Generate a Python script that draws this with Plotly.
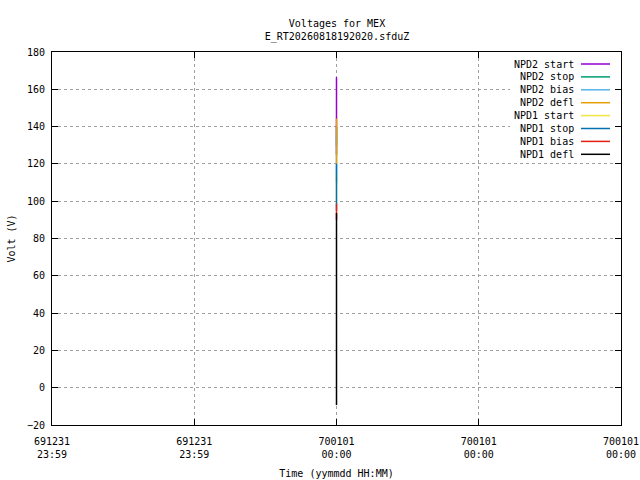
import plotly.graph_objects as go

# seconds since epoch (all samples sit at the same instant)
time_s = [0, 0]

series_names = ["NPD2 start", "NPD2 stop", "NPD2 bias", "NPD2 defl",
                "NPD1 start", "NPD1 stop", "NPD1 bias", "NPD1 defl"]
series_colors = ["#9400d3", "#009e73", "#56b4e9", "#e69f00",
                 "#f0e442", "#0072b2", "#e51e10", "#000000"]

npd2_start = [125.0, 166.5]
npd2_stop = [130.0, 140.0]
npd2_bias = [110.0, 135.0]
npd2_defl = [120.0, 144.3]
npd1_start = [100.0, 115.0]
npd1_stop = [95.0, 120.1]
npd1_bias = [90.0, 98.7]
npd1_defl = [-9.3, 93.7]

series_values = [npd2_start, npd2_stop, npd2_bias, npd2_defl,
                 npd1_start, npd1_stop, npd1_bias, npd1_defl]

x_tickvals = [-1, -0.5, 0, 0.5, 1]
x_ticktext = ["691231<br>23:59", "691231<br>23:59", "700101<br>00:00",
              "700101<br>00:00", "700101<br>00:00"]

FONT = "DejaVu Sans Mono, monospace"

W, H = 640, 480
ML, MR, MT, MB = 52, 19, 52, 55

fig = go.Figure()

for name, col, vals in zip(series_names, series_colors, series_values):
    fig.add_trace(go.Scatter(x=time_s, y=vals, mode="lines", name=name,
                             line=dict(color=col, width=1.5),
                             showlegend=False))

# gnuplot-style key: right aligned text, sample line on the right
pw = W - ML - MR
ph = H - MT - MB

# key area blanks out the grid behind it (no data there, so "above" is safe)
fig.add_shape(type="rect", xref="paper", yref="paper", layer="above",
              x0=(510 - ML) / pw, x1=(613 - ML) / pw,
              y0=1 - (161 - MT) / ph, y1=1 - (57 - MT) / ph,
              fillcolor="white", line=dict(width=0))

for i, (name, col) in enumerate(zip(series_names, series_colors)):
    py = 64 + i * 12.9 - MT          # pixel row inside plot area
    yp = 1 - py / ph
    fig.add_annotation(x=(576 - ML) / pw, y=yp, xref="paper", yref="paper",
                       text=name, showarrow=False, xanchor="right",
                       yanchor="middle", font=dict(family=FONT, size=10, color="black"))
    fig.add_shape(type="line", xref="paper", yref="paper",
                  x0=(581 - ML) / pw, x1=(610 - ML) / pw, y0=yp, y1=yp,
                  line=dict(color=col, width=1.5))

axis_common = dict(showline=True, linecolor="black", linewidth=1, mirror="ticks",
                   ticks="inside", ticklen=6, tickcolor="black",
                   showgrid=True, gridcolor="#a0a0a0", griddash="3px,3px",
                   gridwidth=1, zeroline=False, automargin=False,
                   ticklabeloverflow="allow",
                   tickfont=dict(family=FONT, size=10, color="black"))

fig.update_xaxes(range=[-1, 1], tickvals=x_tickvals, ticktext=x_ticktext,
                 ticklabelstandoff=7,
                 title=dict(text="Time (yymmdd HH:MM)", font=dict(family=FONT, size=10),
                            standoff=10),
                 **axis_common)
fig.update_yaxes(range=[-20, 180], dtick=20, ticklabelstandoff=4,
                 title=dict(text="Volt (V)", font=dict(family=FONT, size=10), standoff=9),
                 **axis_common)

fig.update_layout(
    width=W, height=H,
    margin=dict(l=ML, r=MR, t=MT, b=MB),
    paper_bgcolor="white", plot_bgcolor="white",
    title=dict(text="Voltages for MEX<br>E_RT20260818192020.sfduZ",
               x=337 / W, xanchor="center", y=1 - 26.5 / H, yanchor="middle",
               font=dict(family=FONT, size=10, color="black")),
    font=dict(family=FONT, size=10, color="black"),
)

# drop the browser's default body margin so the 640x480 figure fills the window
fig.write_html("out.html", config={"displayModeBar": False},
               post_script="document.body.style.margin='0';document.body.style.overflow='hidden';")
